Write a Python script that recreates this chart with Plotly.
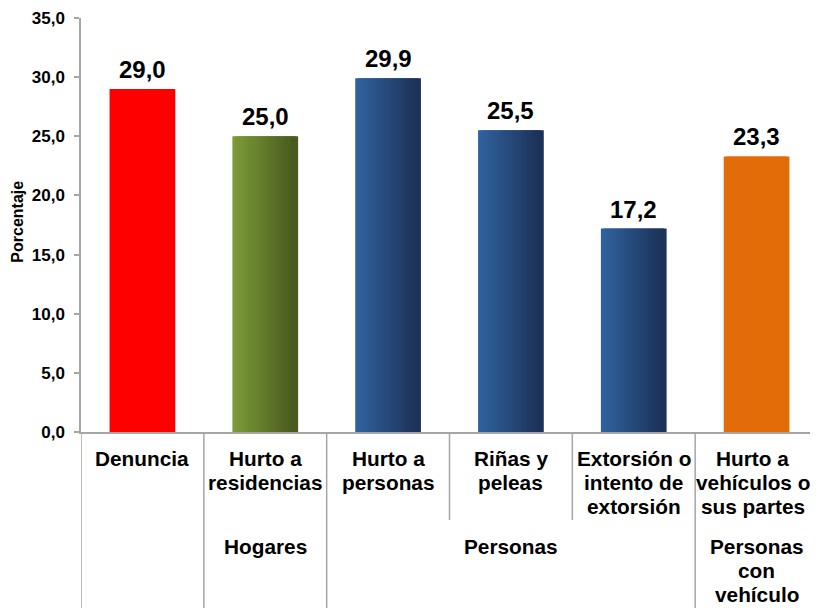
import plotly.graph_objects as go

categories = ["Denuncia", "Hurto a<br>residencias", "Hurto a<br>personas", "Riñas y<br>peleas",
              "Extorsión o<br>intento de<br>extorsión", "Hurto a<br>vehículos o<br>sus partes"]
values = [29.0, 25.0, 29.9, 25.5, 17.2, 23.3]
group_spans = [(0, 0, ""), (1, 1, "Hogares"), (2, 4, "Personas"), (5, 5, "Personas<br>con<br>vehículo")]
tick_vals = [0, 5, 10, 15, 20, 25, 30, 35]

# left/right gradient colours per bar
grad_left = [(255, 0, 0), (124, 155, 56), (48, 98, 158), (48, 98, 158), (48, 98, 158), (227, 108, 10)]
grad_right = [(255, 0, 0), (72, 90, 30), (28, 50, 88), (28, 50, 88), (28, 50, 88), (227, 108, 10)]

N = 24
BW = 0.535
SW = BW / N * 2.0
STEP = (BW - SW) / (N - 1)
xs = list(range(len(categories)))

FONT = "Liberation Sans, Arial"
FIG_W = 818
FIG_H = 600
PLOT_H = 414
TOP = 10
BOTTOM = FIG_H - TOP - PLOT_H

fig = go.Figure()
for i in range(N):
    t = i / (N - 1)
    cols = []
    for l, r in zip(grad_left, grad_right):
        c = tuple(round(l[k] + (r[k] - l[k]) * t) for k in range(3))
        cols.append("rgb(%d,%d,%d)" % c)
    fig.add_trace(go.Bar(
        x=xs, y=values, width=SW, offset=-BW / 2 + i * STEP,
        marker=dict(color=cols, line=dict(width=0)),
        showlegend=False, hoverinfo="skip"))

annotations = []
for x, v in zip(xs, values):
    annotations.append(dict(x=x, y=v, xref="x", yref="y", text=f"{v:.1f}".replace(".", ","),
                            showarrow=False, yanchor="bottom", yshift=4,
                            font=dict(family=FONT, size=24, color="black", weight="bold")))

LINE = 24
last = len(categories) - 1
for x, lab in zip(xs, categories):
    for k, line in enumerate(lab.split("<br>")):
        annotations.append(dict(x=x, y=0, xref="x", yref="paper", text=line, showarrow=False,
                                yanchor="top", yshift=-13 - k * LINE, xshift=-4 if x == last else 0,
                                font=dict(family=FONT, size=20.8, color="black", weight="bold")))

for a, b, lab in group_spans:
    if not lab:
        continue
    for k, line in enumerate(lab.split("<br>")):
        annotations.append(dict(x=(a + b) / 2, y=0, xref="x", yref="paper", text=line, showarrow=False,
                                yanchor="top", yshift=-101 - k * LINE,
                                font=dict(family=FONT, size=20.8, color="black", weight="bold")))

annotations.append(dict(x=0, y=0.508, xref="paper", yref="paper", text="Porcentaje", textangle=-90,
                        showarrow=False, xanchor="center", yanchor="middle", xshift=-63,
                        font=dict(family=FONT, size=16, color="black", weight="bold")))

shapes = []
full_bottom = -BOTTOM / PLOT_H
short_bottom = -88 / PLOT_H
group_starts = {a for a, b, _ in group_spans}
for i in range(len(categories)):
    xpos = i - 0.5
    y1 = full_bottom if i in group_starts else short_bottom
    shapes.append(dict(type="line", xref="x", yref="paper", x0=xpos, x1=xpos, y0=0, y1=y1,
                       line=dict(color="#a6a6a6", width=1.5)))

fig.update_layout(
    width=FIG_W, height=FIG_H,
    margin=dict(l=73, r=8, t=TOP, b=BOTTOM, autoexpand=False),
    paper_bgcolor="white", plot_bgcolor="white",
    barmode="overlay", separators=",.",
    annotations=annotations, shapes=shapes,
    font=dict(family=FONT, color="black"),
)
fig.update_xaxes(range=[-0.5, len(categories) - 0.5], showticklabels=False, showgrid=False,
                 zeroline=False, showline=True, linecolor="#a6a6a6", linewidth=1.5, ticks="",
                 automargin=False)
fig.update_yaxes(range=[0, 35], tickvals=tick_vals, tickformat=".1f", showgrid=False, zeroline=False,
                 showline=True, linecolor="#a6a6a6", linewidth=1.5, ticks="outside", ticklen=5,
                 tickcolor="#a6a6a6", tickwidth=1.5, ticklabelstandoff=6, automargin=False,
                 tickfont=dict(family=FONT, size=17, color="black", weight="bold"))

fig.write_html("out.html")
